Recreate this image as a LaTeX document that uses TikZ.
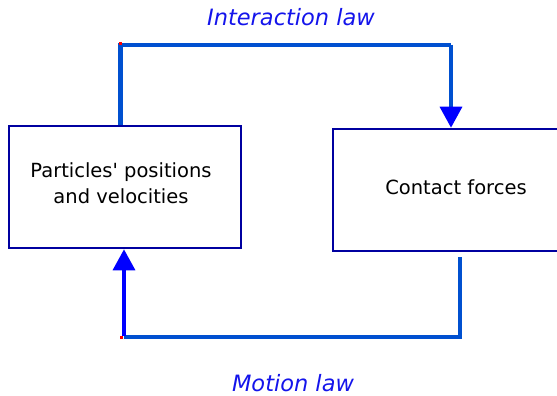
\documentclass[tikz,border=0pt]{standalone}
\usepackage{fontspec}
\setmainfont{DejaVu Sans}[Ligatures=TeXOff]
\usetikzlibrary{arrows.meta}
\definecolor{boxc}{RGB}{0,0,160}
\definecolor{connc}{RGB}{0,80,208}
\definecolor{labc}{RGB}{20,20,235}
\tikzset{
  blk/.style={draw=boxc, line width=2.6pt, fill=white, inner sep=0pt},
  txt/.style={align=center, inner sep=0pt, font=\fontsize{19.5}{26}\selectfont},
  conn/.style={draw=connc, line width=4.6pt},
  upconn/.style={draw=blue, line width=3.4pt},
  tipb/.style={-{Triangle[width=22pt,length=21pt,color=blue]}},
  lab/.style={text=labc, font=\fontsize{22.5}{26}\selectfont\itshape}
}
\begin{document}
\begin{tikzpicture}[x=1pt,y=-1pt]
\useasboundingbox (0,0) rectangle (557,396);
\node[blk, minimum width=232pt, minimum height=122pt] (L) at (125,187) {};
\node[blk, minimum width=246pt, minimum height=122pt] (R) at (456,190) {};
\node[txt] (Lt) at (121,183.5) {Particles' positions\\and velocities};
\node[txt] (Rt) at (456,187) {Contact forces};
\coordinate (tr) at (451,45);
\coordinate (bl) at (124,337);
\draw[conn] ([xshift=-4.5pt]L.north) |- (tr);
\draw[conn] (tr) -- ([yshift=20pt]tr |- R.north);
\draw[blue, line width=3.4pt, tipb] ([yshift=21pt]tr |- R.north) -- (tr |- R.north);
\draw[conn] ([xshift=4pt,yshift=-5pt]R.south) |- (bl);
\draw[upconn, tipb] ([yshift=1pt]bl) -- (bl |- L.south);
\fill[red] (118.5,42.5) rectangle (121.5,45.5);
\fill[red] (120,335.5) rectangle (123,338.5);
\node[lab] (top) at (291,17) {Interaction law};
\node[lab] (bot) at (293,383) {Motion law};
\end{tikzpicture}
\end{document}
